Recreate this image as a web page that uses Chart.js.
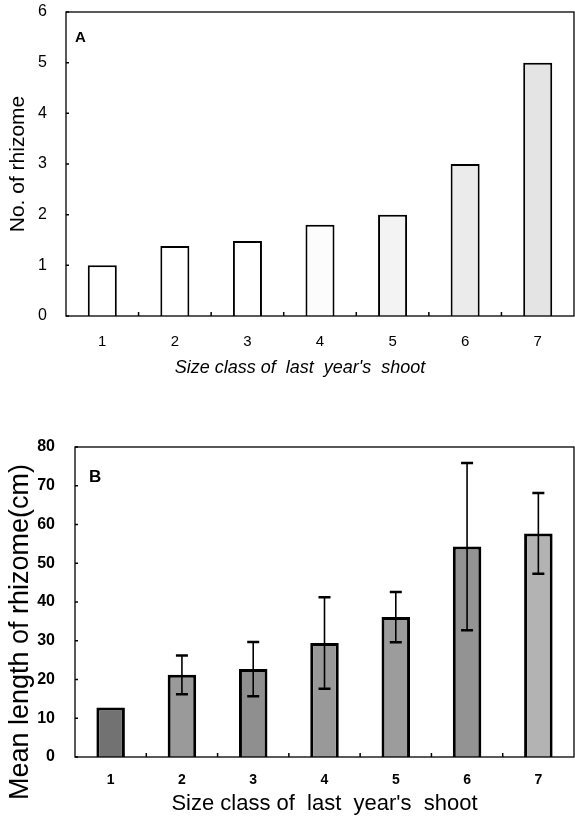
<!DOCTYPE html>
<html lang="en">
<head>
    <meta charset="UTF-8">
    <title>Rhizome by size class</title>
    <script src="https://cdn.jsdelivr.net/npm/chart.js"></script>
    <style>
        body {
            margin: 0;
            background: #fff;
            font-family: 'Liberation Sans', Arial, sans-serif;
        }
        .panel {
            position: absolute;
            left: 0;
            width: 575px;
        }
        #panelA { top: 0; height: 385px; }
        #panelB { top: 380px; height: 439px; }
        .tag {
            position: absolute;
            font-weight: bold;
            color: #000;
        }
    </style>
</head>
<body>
    <div class="panel" id="panelA">
        <canvas id="chartA" width="575" height="385"></canvas>
        <div class="tag" style="left:75px; top:28px; font-size:15px;">A</div>
    </div>
    <div class="panel" id="panelB">
        <canvas id="chartB" width="575" height="439"></canvas>
        <div class="tag" style="left:89px; top:87px; font-size:17px;">B</div>
    </div>

    <script>
        const sizeClasses = ['1', '2', '3', '4', '5', '6', '7'];

        // panel A: number of rhizomes
        const rhizomeCount = [1.0, 1.38, 1.48, 1.8, 2.0, 3.0, 5.0];
        const countColors = ['#ffffff', '#ffffff', '#ffffff', '#fcfcfc', '#f3f3f3', '#ebebeb', '#e4e4e4'];

        // panel B: mean rhizome length (cm) and error
        const lengthMean = [12.8, 21.2, 22.7, 29.4, 36.1, 54.3, 57.7];
        const lengthErr = [0, 5, 7, 11.8, 6.5, 21.6, 10.4];
        const lengthColors = ['#727272', '#9a9a9a', '#8f8f8f', '#999999', '#9c9c9c', '#939393', '#b3b3b3'];

        const fontFamily = "'Liberation Sans', Arial, sans-serif";
        Chart.defaults.color = '#000';
        Chart.defaults.font.family = fontFamily;

        // frame round the plot and short inward ticks
        const framePlugin = {
            id: 'frame',
            afterDraw(chart) {
                const { ctx, chartArea: a, scales } = chart;
                ctx.save();
                ctx.strokeStyle = '#000';
                ctx.lineWidth = 1.3;
                ctx.strokeRect(a.left, a.top, a.right - a.left, a.bottom - a.top);
                ctx.lineWidth = 1.5;
                ctx.beginPath();
                const x = scales.x;
                const step = (a.right - a.left) / sizeClasses.length;
                for (let i = 1; i < sizeClasses.length; i++) {
                    const px = x.getPixelForValue(i) - step / 2;
                    ctx.moveTo(px, a.bottom);
                    ctx.lineTo(px, a.bottom - 4);
                }
                const y = scales.y;
                y.ticks.forEach(t => {
                    const py = y.getPixelForValue(t.value);
                    ctx.moveTo(a.left, py);
                    ctx.lineTo(a.left + 3, py);
                });
                ctx.stroke();
                ctx.restore();
            }
        };

        // error bars with caps at both ends
        const errorPlugin = {
            id: 'errorBars',
            afterDatasetsDraw(chart, args, opts) {
                if (!opts.errors) return;
                const { ctx, scales } = chart;
                const meta = chart.getDatasetMeta(0);
                ctx.save();
                ctx.strokeStyle = '#000';
                meta.data.forEach((bar, i) => {
                    const e = opts.errors[i];
                    if (!e) return;
                    const v = chart.data.datasets[0].data[i];
                    const yHi = scales.y.getPixelForValue(v + e);
                    const yLo = scales.y.getPixelForValue(v - e);
                    ctx.lineWidth = 1.6;
                    ctx.beginPath();
                    ctx.moveTo(bar.x, yLo);
                    ctx.lineTo(bar.x, yHi);
                    ctx.stroke();
                    ctx.lineWidth = 2.5;
                    ctx.beginPath();
                    ctx.moveTo(bar.x - 6, yHi);
                    ctx.lineTo(bar.x + 6, yHi);
                    ctx.moveTo(bar.x - 6, yLo);
                    ctx.lineTo(bar.x + 6, yLo);
                    ctx.stroke();
                });
                ctx.restore();
            }
        };

        function makeChart(id, cfg) {
            return new Chart(document.getElementById(id), {
                type: 'bar',
                data: {
                    labels: sizeClasses,
                    datasets: [{
                        data: cfg.values,
                        backgroundColor: cfg.colors,
                        borderColor: '#000',
                        borderWidth: cfg.border,
                        borderSkipped: 'bottom',
                        barPercentage: 0.4,
                        categoryPercentage: 1.0
                    }]
                },
                options: {
                    responsive: false,
                    animation: false,
                    layout: { padding: { top: cfg.top, right: 1, left: 0, bottom: 0 } },
                    plugins: {
                        legend: { display: false },
                        tooltip: { enabled: false },
                        errorBars: { errors: cfg.errors }
                    },
                    scales: {
                        x: {
                            grid: { display: false },
                            border: { display: false },
                            ticks: { padding: cfg.xTickPad, font: { size: cfg.xTickSize, weight: cfg.tickWeight } },
                            title: {
                                display: true,
                                text: cfg.xTitle,
                                font: { size: cfg.xTitleSize, style: cfg.xTitleStyle },
                                padding: { top: 0, bottom: cfg.xTitlePad }
                            },
                            afterFit(s) { s.height = cfg.xHeight; }
                        },
                        y: {
                            min: 0,
                            max: cfg.max,
                            grid: { display: false },
                            border: { display: false },
                            ticks: {
                                stepSize: cfg.step,
                                padding: cfg.yTickPad,
                                font: { size: cfg.yTickSize, weight: cfg.tickWeight }
                            },
                            title: {
                                display: true,
                                text: cfg.yTitle,
                                font: { size: cfg.yTitleSize },
                                padding: { top: cfg.yTitlePad, bottom: 0 }
                            },
                            afterFit(s) {
                                s.width = cfg.yWidth;
                                s.paddingTop = 0;
                            }
                        }
                    }
                },
                plugins: [framePlugin, errorPlugin]
            });
        }

        makeChart('chartA', {
            values: rhizomeCount,
            colors: countColors,
            border: 2,
            errors: null,
            max: 6,
            step: 1,
            top: 12,
            yWidth: 66,
            xHeight: 69,
            xTickPad: 9,
            xTickSize: 15,
            yTickSize: 16,
            yTickPad: 11,
            tickWeight: 'normal',
            xTitle: "Size class of  last  year's  shoot        ",
            xTitleSize: 18,
            xTitleStyle: 'italic',
            xTitlePad: 6,
            yTitle: 'No. of rhizome',
            yTitleSize: 21,
            yTitlePad: 6
        });

        makeChart('chartB', {
            values: lengthMean,
            colors: lengthColors,
            border: 3,
            errors: lengthErr,
            max: 80,
            step: 10,
            top: 67,
            yWidth: 75,
            xHeight: 62,
            xTickPad: 7,
            xTickSize: 14,
            yTickSize: 16,
            yTickPad: 12,
            tickWeight: 'bold',
            xTitle: "Size class of  last  year's  shoot",
            xTitleSize: 22,
            xTitleStyle: 'normal',
            xTitlePad: 2,
            yTitle: 'Mean length of rhizome(cm)        ',
            yTitleSize: 27,
            yTitlePad: 4
        });
    </script>
</body>
</html>
